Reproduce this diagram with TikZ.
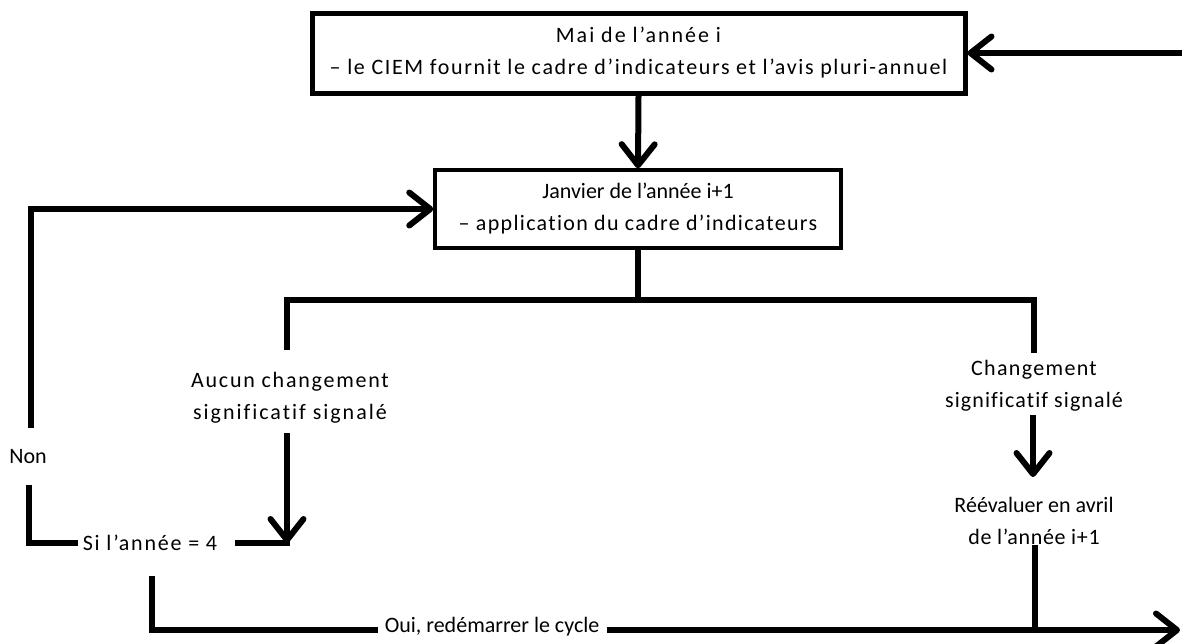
\documentclass[tikz,border=0pt]{standalone}
\usepackage{fontspec}
\setmainfont{Carlito}[Ligatures=NoCommon]
\usetikzlibrary{arrows.meta}
\newcommand{\lsp}[2]{{\addfontfeature{LetterSpace=#1}#2}}
\begin{document}
\begin{tikzpicture}[x=1pt,y=-1pt,
  every node/.style={font=\fontsize{22}{32}\selectfont, align=center, inner sep=0pt},
  conn/.style={line width=6pt, line cap=rect},
  arr/.style={line width=6pt, -{Straight Barb[length=21pt,width=33pt,line width=6pt,round]}},
  boxa/.style={draw, line width=5pt, minimum width=653pt, minimum height=80pt},
  boxb/.style={draw, line width=3.5pt, minimum width=406pt, minimum height=78pt}]
\useasboundingbox (0,0) rectangle (1182,643);
% boxes
\node[boxa] (b1) at (638.5,53) {\lsp{9}{Mai de l’année i}\\\lsp{7.5}{– le CIEM fournit le cadre d’indicateurs et l’avis pluri-annuel}};
\node[boxb] (b2) at (638,209) {Janvier de l’année i+1\\\lsp{6}{– application du cadre d’indicateurs}};
% texts
\node (aucun) at (290,398) {\lsp{8}{Aucun changement}\\\lsp{9}{significatif signalé}};
\node (chg) at (1034,386) {\lsp{6}{Changement}\\\lsp{5}{significatif signalé}};
\node (reev) at (1034,521) {Réévaluer en avril\\\lsp{3}{de l’année i+1}};
\node (si) at (150,543) {\lsp{8}{Si l’année = 4}};
\node (non) at (28,457) {Non};
\node (oui) at (492,627) {Oui, redémarrer le cycle};
% coordinates
\coordinate (rin) at (1182,53);
\coordinate (lbot) at (31,428);
\coordinate (j0) at (638,300);
\coordinate (jl) at (287,347);
\coordinate (jr) at (1034,350);
\coordinate (a1s) at (287,433);
\coordinate (a1e) at (287,543);
\coordinate (sir) at (238,543);
\coordinate (sil) at (75,543);
\coordinate (nonb) at (29,488);
\coordinate (a2s) at (1033,415);
\coordinate (a2e) at (1033,477);
\coordinate (rv) at (1035,548);
\coordinate (ouil) at (152,579);
\coordinate (ouilr) at (375,630);
\coordinate (ouir) at (607,630);
\coordinate (outr) at (1180,630);
% connectors
\draw[arr] (rin) -- (b1.east);
\draw[arr] (b1.south) -- (b2.north);
\draw[arr] (lbot) |- (b2.west);
\draw[conn] (b2.south) -- (j0);
\draw[conn] (jl) |- (j0) -| (jr);
\draw[arr] (a1s) -- (a1e);
\draw[conn] (a1e) -- (sir);
\draw[conn] (sil) -| (nonb);
\draw[arr] (a2s) -- (a2e);
\draw[conn] (rv) -- (rv |- outr);
\draw[conn] (ouil) |- (ouilr);
\draw[arr] (ouir) -- (outr);
\end{tikzpicture}
\end{document}
